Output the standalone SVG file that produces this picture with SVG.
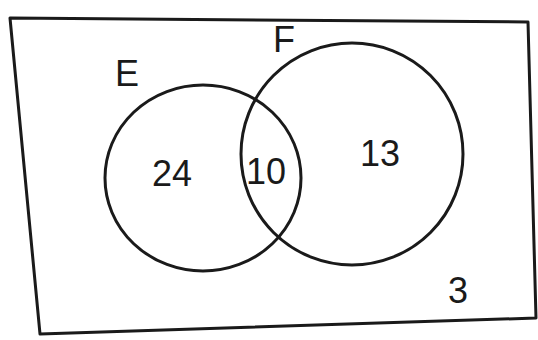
<svg xmlns="http://www.w3.org/2000/svg" width="538" height="340" viewBox="0 0 538 340">
<style>
.ln{fill:none;stroke:#1a1a1a;stroke-width:3;stroke-linejoin:round}
.t{font-family:"Liberation Sans",Arial,sans-serif;fill:#1a1a1a;font-size:36px;text-anchor:middle}
</style>
<rect width="538" height="340" fill="#ffffff"/>
<g id="universe"><path class="ln" d="M10,18 L528,22 L536,318 L40,334 Z"/></g>
<g id="E"><ellipse class="ln" cx="203" cy="178" rx="98" ry="93"/><text class="t" x="127" y="86">E</text></g>
<g id="F"><ellipse class="ln" cx="352" cy="154" rx="111" ry="111"/><text class="t" x="284" y="52">F</text></g>
<g id="labels">
<text class="t" x="172" y="186">24</text>
<text class="t" x="266" y="184">10</text>
<text class="t" x="380" y="166">13</text>
<text class="t" x="458" y="303">3</text>
</g>
<g id="connectors"></g>
</svg>
